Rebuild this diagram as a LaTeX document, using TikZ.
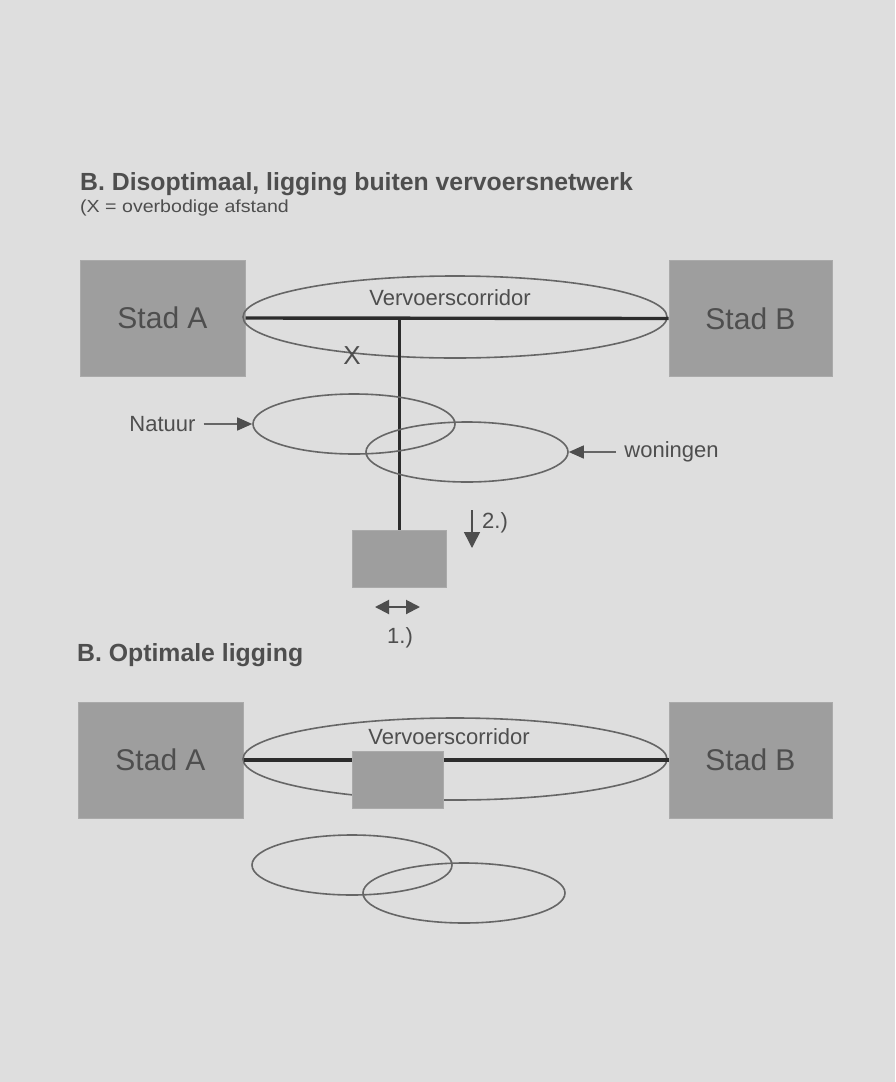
\documentclass[tikz,border=0pt]{standalone}
\usepackage{fontspec}
\setmainfont{Liberation Sans}
\usetikzlibrary{shapes.geometric,arrows.meta}
\definecolor{bg}{HTML}{DEDEDE}
\definecolor{boxc}{HTML}{9E9E9E}
\definecolor{boxedge}{HTML}{AAAAAA}
\definecolor{txt}{HTML}{4E4E4E}
\definecolor{linec}{HTML}{2C2C2C}
\definecolor{ellc}{HTML}{666666}
\begin{document}
\begin{tikzpicture}[x=1pt,y=-1pt,
  city/.style={draw=boxedge,line width=1pt,fill=boxc,text=txt,inner sep=0pt,
    font=\fontsize{30}{34}\selectfont},
  plot/.style={draw=boxedge,line width=1pt,fill=boxc,inner sep=0pt},
  zone/.style={ellipse,draw=ellc,line width=1.6pt,inner sep=0pt},
  lbl/.style={text=txt,inner sep=1pt,font=\fontsize{22}{26}\selectfont},
  heading/.style={text=txt,inner sep=0pt,anchor=base west,font=\bfseries\fontsize{24.8}{28}\selectfont},
  road/.style={draw=linec,line width=3.4pt},
  pointer/.style={draw=ellc,line width=1.5pt,shorten <=7pt,-{Triangle[length=15pt,width=13pt,color=txt]}},
]
\useasboundingbox (0,0) rectangle (895,1082);
\fill[bg] (0,0) rectangle (895,1082);

% ---------- upper diagram ----------
\node[heading] (t1) at (80,190) {B. Disoptimaal, ligging buiten vervoersnetwerk};
\node[text=txt,inner sep=0pt,anchor=base west,font=\fontsize{17.5}{20}\selectfont] (s1) at (80,212) {\scalebox{1.12}[1]{(X = overbodige afstand}};

\node[city,minimum width=165pt,minimum height=116pt] (A1) at (162.5,318) {Stad A};
\node[city,minimum width=163pt,minimum height=116pt] (B1) at (750.5,318.5) {Stad B};
\node[zone,minimum width=424pt,minimum height=82pt] (E1) at (455,317) {};
\node[lbl] (c1) at (450,298) {Vervoerscorridor};
\draw[road] (A1.east) -- (B1.west);

\node[plot,minimum width=94pt,minimum height=57pt] (S1) at (399,558.5) {};
\coordinate (J1) at (S1.north |- A1.east);
\draw[draw=linec,line width=3pt] (J1) -- (S1.north);
\node[lbl,font=\fontsize{26}{30}\selectfont] (X) at (352,356) {X};

\node[zone,minimum width=202pt,minimum height=60pt] (N1) at (354,424) {};
\node[zone,minimum width=202pt,minimum height=60pt] (W1) at (467,452) {};
\node[lbl] (nat) at (162.5,424) {Natuur};
\node[lbl] (won) at (671.5,452) {woningen};
\draw[pointer] (nat.east) -- (N1.west);
\draw[pointer] (won.west) -- (W1.east);

\coordinate (d2a) at (472,510);
\coordinate (d2b) at (472,548);
\draw[draw=txt,line width=1.5pt,-{Triangle[length=16pt,width=16pt]}] (d2a) -- (d2b);
\node[lbl] (l2) at (495,523) {2.)};

\coordinate (d1a) at (375,607);
\coordinate (d1b) at (420,607);
\draw[draw=txt,line width=2pt,{Triangle[length=14pt,width=14pt]}-{Triangle[length=14pt,width=14pt]}] (d1a) -- (d1b);
\node[lbl] (l1) at (400,638) {1.)};

% ---------- lower diagram ----------
\node[heading] (t2) at (77,661) {B. Optimale ligging};

\node[city,minimum width=165pt,minimum height=116pt] (A2) at (160.5,760) {Stad A};
\node[city,minimum width=163pt,minimum height=116pt] (B2) at (750.5,760) {Stad B};
\node[zone,minimum width=424pt,minimum height=82pt] (E2) at (455,759) {};
\node[lbl] (c2) at (449,737) {Vervoerscorridor};
\node[plot,minimum width=91pt,minimum height=57pt] (M2) at (397.5,779.5) {};
\draw[road] (A2.east) -- (A2.east -| M2.west);
\draw[road] (M2.east |- B2.west) -- (B2.west);

\node[zone,minimum width=200pt,minimum height=60pt] (N2) at (352,865) {};
\node[zone,minimum width=202pt,minimum height=60pt] (W2) at (464,893) {};
\end{tikzpicture}
\end{document}
